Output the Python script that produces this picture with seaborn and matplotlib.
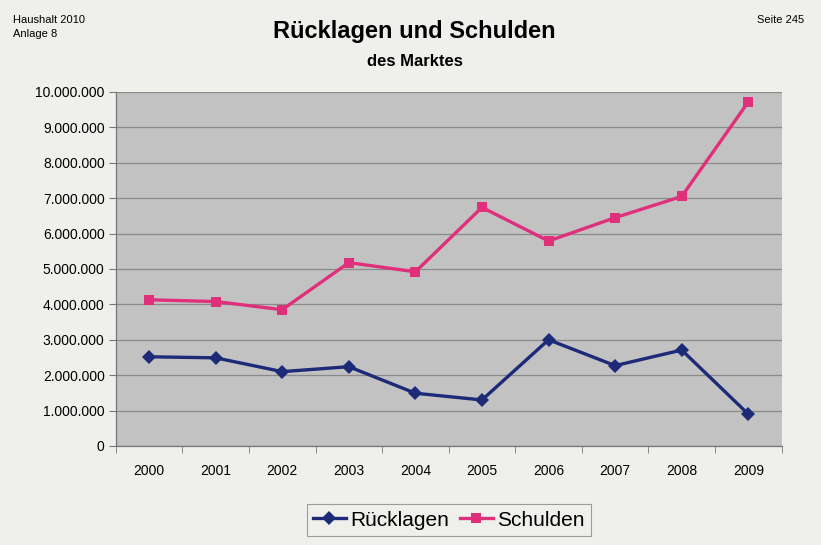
import seaborn as sns
import matplotlib.pyplot as plt
import pandas as pd
from matplotlib.ticker import FuncFormatter, FixedLocator

# Werte (in Euro)
jahre = ['2000', '2001', '2002', '2003', '2004', '2005', '2006', '2007', '2008', '2009']
ruecklagen = [2520000, 2490000, 2100000, 2240000, 1490000, 1300000, 3000000, 2270000, 2710000, 900000]
schulden = [4130000, 4080000, 3850000, 5180000, 4920000, 6740000, 5790000, 6450000, 7050000, 9720000]

df = pd.DataFrame({
    'pos': list(range(len(jahre))) * 2,
    'wert': ruecklagen + schulden,
    'serie': ['Rücklagen'] * len(jahre) + ['Schulden'] * len(jahre),
})

plt.rcParams['font.family'] = ['Liberation Sans', 'DejaVu Sans']

bg = '#efefec'
fig = plt.figure(figsize=(8.21, 5.45), dpi=100, facecolor=bg)
ax = fig.add_axes([0.141, 0.1817, 0.811, 0.6495])
ax.set_facecolor('#c2c2c2')

farben = {'Rücklagen': '#1c2a78', 'Schulden': '#e0307c'}
sns.lineplot(data=df, x='pos', y='wert', hue='serie', style='serie',
             markers={'Rücklagen': 'D', 'Schulden': 's'}, dashes=False,
             palette=farben, linewidth=2.4, markersize=7, markeredgewidth=0,
             ax=ax, legend=True)

ax.set_xlim(-0.5, len(jahre) - 0.5)
ax.set_ylim(0, 10000000)
ax.yaxis.set_major_locator(FixedLocator(range(0, 10000001, 1000000)))
ax.yaxis.set_major_formatter(FuncFormatter(lambda v, p: f'{int(v):,}'.replace(',', '.')))
ax.grid(axis='y', color='#8a8a8a', linewidth=0.9)
ax.set_axisbelow(True)

# Jahreslabels mittig, Tickstriche an den Kategoriegrenzen
ax.set_xticks(range(len(jahre)))
ax.set_xticklabels(jahre)
ax.tick_params(axis='x', which='major', length=0, pad=13, labelsize=10)
ax.set_xticks([i - 0.5 for i in range(len(jahre) + 1)], minor=True)
ax.tick_params(axis='x', which='minor', length=5, color='#777777', direction='out')
ax.tick_params(axis='y', length=5, color='#777777', labelsize=10, pad=3)

for s in ['top', 'right']:
    ax.spines[s].set_visible(False)
for s in ['left', 'bottom']:
    ax.spines[s].set_color('#777777')
    ax.spines[s].set_linewidth(0.9)

ax.set_xlabel('')
ax.set_ylabel('')

leg = ax.legend(loc='upper center', bbox_to_anchor=(0.5, -0.165), ncol=2,
                fontsize=15, frameon=True, fancybox=False, handlelength=1.6,
                handletextpad=0.2, columnspacing=0.5, borderpad=0.3,
                borderaxespad=0)
leg.get_frame().set_edgecolor('#888888')
leg.get_frame().set_facecolor(bg)
leg.get_frame().set_linewidth(0.8)

fig.text(0.505, 0.943, 'Rücklagen und Schulden', ha='center', va='center',
         fontsize=17, fontweight='bold')
fig.text(0.505, 0.888, 'des Marktes', ha='center', va='center',
         fontsize=12, fontweight='bold')
fig.text(0.016, 0.963, 'Haushalt 2010', ha='left', va='center', fontsize=8)
fig.text(0.016, 0.937, 'Anlage 8', ha='left', va='center', fontsize=8)
fig.text(0.98, 0.963, 'Seite 245', ha='right', va='center', fontsize=8)

fig.savefig('out.png', dpi=100, facecolor=bg)
